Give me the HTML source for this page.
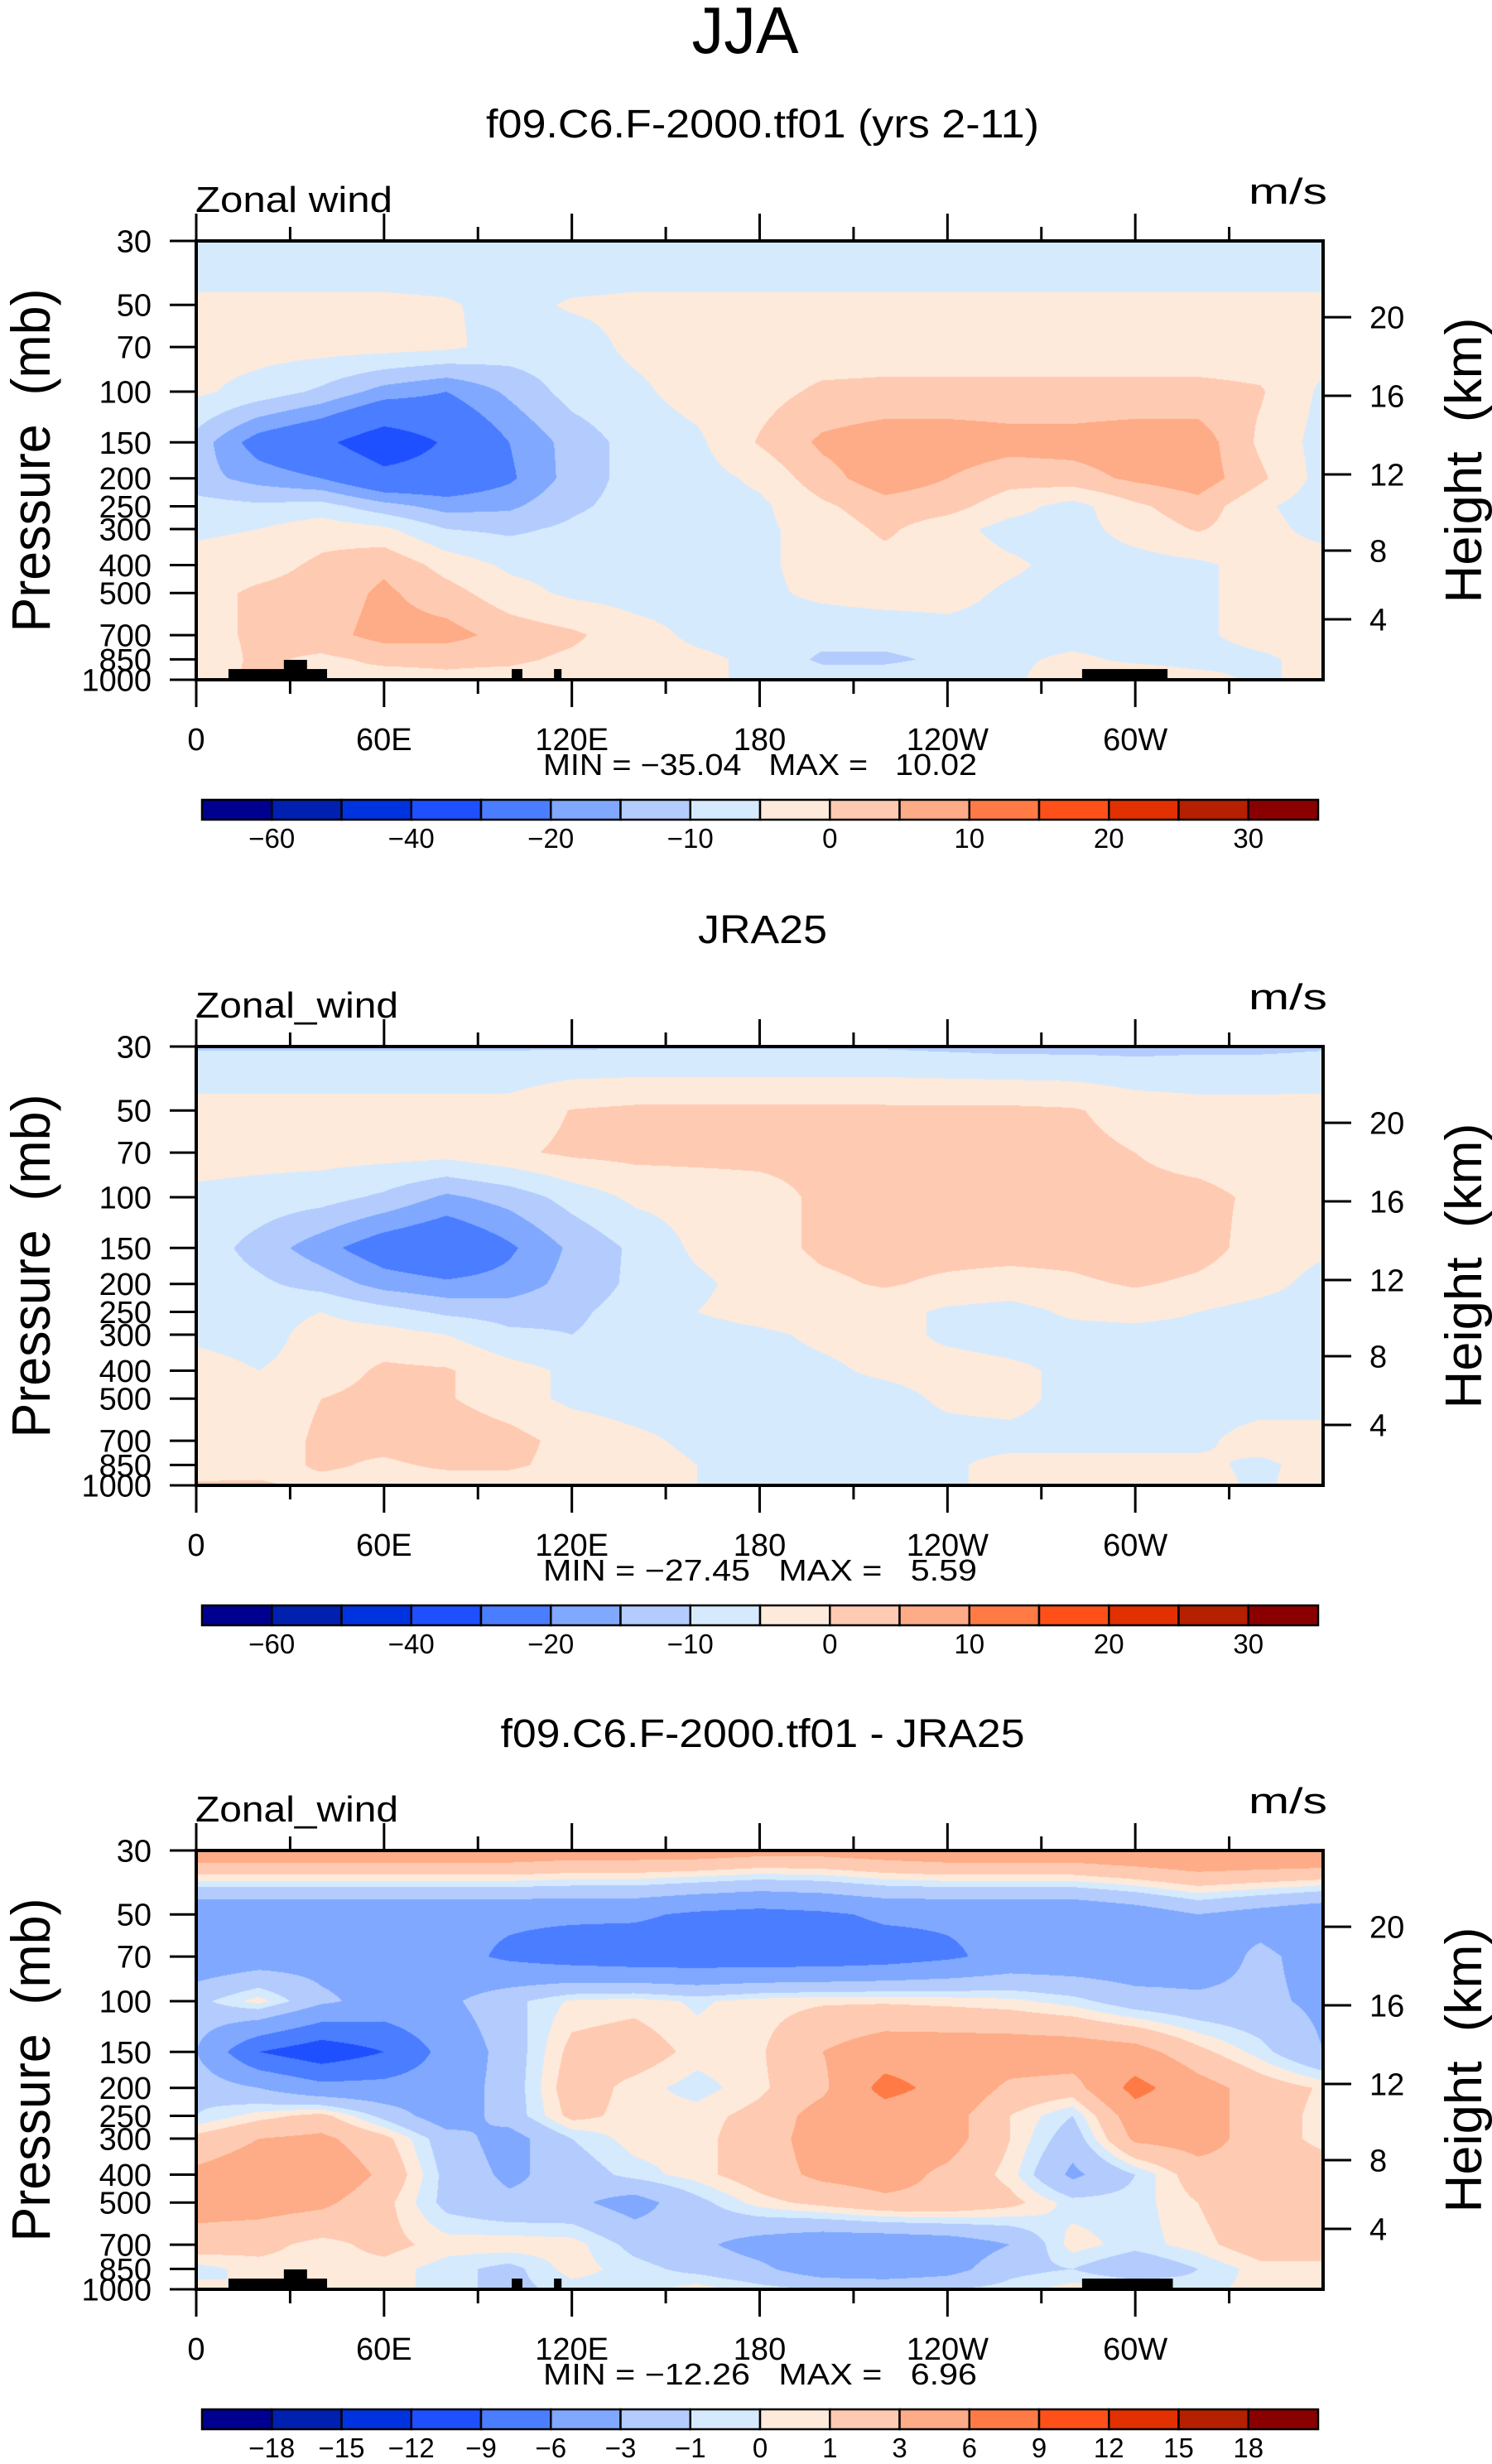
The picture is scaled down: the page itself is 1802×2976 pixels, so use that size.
<!DOCTYPE html>
<html><head><meta charset="utf-8">
<style>
html,body{margin:0;padding:0;background:#fff;}
#wrap{position:relative;width:1802px;height:2976px;overflow:hidden;background:#fff;}
canvas{position:absolute;}
svg{position:absolute;left:0;top:0;}
text{font-family:"Liberation Sans",sans-serif;fill:#000;}
</style></head>
<body>
<div id="wrap">
<canvas id="c0" width="1361" height="530" style="left:237px;top:291px"></canvas>
<canvas id="c1" width="1361" height="530" style="left:237px;top:1264px"></canvas>
<canvas id="c2" width="1361" height="530" style="left:237px;top:2235px"></canvas>
<svg id="ov" width="1802" height="2976" xmlns="http://www.w3.org/2000/svg">
<text x="900" y="64" font-size="80" text-anchor="middle" textLength="129" lengthAdjust="spacingAndGlyphs">JJA</text>
</svg>
</div>
<script>
// ---- data ----
const lons=[0,20,40,60,80,100,120,140,160,180,200,220,240,260,280,300,320,340,360];
const plevs=[30,50,70,100,150,200,250,300,400,500,700,850,1000];
const uModel=[
[-9,-9,-9,-9,-9,-9,-9,-9,-9,-9,-9,-9,-9,-9,-9,-9,-9,-9,-9],
[-4,-4,-4,-4,-4.5,-6.5,-4.5,-4,-4,-4,-4,-4,-4,-4,-4,-4,-4,-4,-4],
[-3,-3,-3,-3,-4,-7,-7,-4,-3,-3,-3,-3,-3,-3,-3,-3,-3,-3,-3],
[-4,-7,-11,-17,-20,-14,-8,-6,-3,-2,1,1.5,1.5,1.5,1.5,1.5,1.5,0.5,-6],
[-12,-23,-28,-36,-29,-20,-13,-8,-6,0.5,6,8,8,7,7,8,8,-1,-7],
[-13,-17,-20,-27,-26,-21,-13,-8,-7,-4,3,8,5,2,3,6,8,1,-7],
[-8,-9,-8,-13,-17,-16,-11,-8,-7,-6,-1,3,2,-3,-7,-1,3,-4,-8],
[-6,-5,-2,-4,-10,-11,-9,-7,-7,-6,-3,1,-3,-7,-7,-3,0.5,-3,-7],
[-3,-2,1,4,-2,-6,-7,-7,-7,-6,-3,-2,-2,-4,-7,-7,-6,-3,-2],
[-2,1,2,6,2,-3,-6,-7,-7,-6,-4,-3,-3,-6,-7,-7,-6,-3,-2],
[-2,1,3,7,7,3,1,-3,-6,-7,-8,-8,-7,-7,-7,-7,-6,-3,-3],
[-3,1,-1,1,1,1,-1,-3,-4,-6,-11,-11,-9,-6,-4,-6,-7,-6,-3],
[-2,1,-1,-2,-1,-2,-3,-4,-4,-6,-7,-7,-7,-6,-2,-1,-3,-6,-3]];
const uJRA=[
[-10.5,-10.5,-10.5,-10.5,-10.5,-10.5,-10.5,-10.5,-10.5,-10.5,-10.5,-10.5,-11,-11.5,-11.5,-11.5,-11,-11,-10.5],
[-3,-3,-3,-3,-3,-3,0.2,1,1,1,1,1,1,1,0.5,-2,-3,-3,-3],
[-3,-3,-3,-3,-3,-1,1,1.5,1.5,1.5,1.5,1.5,1.5,1.5,1.5,0,-2,-3,-3],
[-6,-7,-8,-11,-16,-13,-8,-4,-3,-2,1,1.5,1.5,1.5,1.5,1.5,1.5,-1,-3],
[-7,-12,-18,-24,-27,-21,-14,-9,-4,-2,1,2,2,2,2,4,2,-2,-4],
[-7,-9,-12,-17,-19,-18,-13,-9,-6,-3,-1,0.5,-1,-2,-1,0.5,-1,-3,-7],
[-7,-7,-5,-8,-11,-12,-11,-8,-5,-3,-2,-3,-6,-7,-4,-3,-5,-7,-8],
[-6,-7,-3,-3,-5,-9,-10,-8,-7,-6,-4,-3,-6,-7,-7,-7,-7,-7,-7],
[-3,-5,-3,1,0.5,-3,-6,-7,-7,-7,-6,-4,-3,-4,-6,-7,-7,-7,-7],
[-3,-3,0,2,0.5,-3,-6,-7,-7,-7,-7,-7,-4,-3,-7,-7,-7,-7,-7],
[-3,-3,1,2,4,2,-2,-4,-6,-7,-7,-7,-7,-7,-7,-7,-6,-3,-3],
[-2,-3,1,-1,1,1,-2,-3,-5,-7,-7,-7,-6,-3,-3,-3,-4,-6,-3],
[0.5,1,-2,-2,-3,-3,-3,-4,-5,-7,-7,-7,-6,-3,-2,-2,-3,-6,-2]];
const uDiff=[
[5,5,5,5,5,5,4.5,4.5,4.5,4,4,4.5,5,5,5,5.5,6,6,6],
[-5.5,-5.5,-5.5,-5.5,-5.5,-5.5,-5.5,-5.5,-6.5,-7,-6.5,-5.5,-5.5,-5.5,-5.5,-4.5,-3,-4,-5],
[-5,-4.5,-4,-4,-5,-6.5,-7.5,-8,-8,-8,-8,-7.5,-6.5,-5,-5,-5,-4.5,-2.5,-4],
[-1.5,0.5,-2.5,-4,-3.5,-1.5,0.2,0.5,-0.2,0.5,0.8,0.8,0.6,0.3,-0.5,-2,-2.5,-2.5,-3.5],
[-3,-9,-11,-9,-5,-2,1.5,2,0.5,0.8,3,4.5,4.5,4.5,4.5,4,1.5,-0.5,-3],
[-1.5,-3,-5,-5,-4.5,-2,2,0.5,-0.5,0.7,2.5,7,5,2.5,2,7,4,2,0.8],
[-1,0.5,1.5,-1.5,-4.5,-2,1.5,0.5,0.5,1.5,4,4.5,4,1,-1,4.5,4,2,0.5],
[1.5,3,3.5,1.5,-2,-4,-1,0.5,0.5,2,4,4.5,4,1,-2,3.5,4,2,0.5],
[3.5,4.5,5,2.5,-1.5,-3.5,-2,-0.5,0.5,2,3.5,4,2.5,0.5,-3.5,-1,2,2.5,2],
[4,4,3.5,1.5,-1.5,-2.5,-2.5,-4,-1.5,0.5,1.5,2.5,2.5,1.5,-0.5,-0.5,1,2.5,2],
[2,1.5,0.5,1.5,0.5,0.7,0.5,-1.5,-2.5,-4,-5,-5,-4.5,-3,0.5,-0.5,0.5,2,2],
[-0.5,0.5,0.5,0.5,-0.5,-1.5,0.5,-0.5,-1.5,-2.5,-4.5,-5,-4,-1.5,-1,-2.5,-1,0.5,0.5],
[0.5,-0.5,0.5,0.5,-0.5,-1.5,-0.5,-0.5,0.5,-0.5,-1,-1,-1,-0.5,0.5,0.5,-0.5,0.5,0.5]];
const levelsWind=[-60,-50,-40,-30,-20,-15,-10,-5,0,5,10,15,20,25,30];
const levelsDiff=[-18,-15,-12,-9,-6,-3,-1,0,1,3,6,9,12,15,18];
const windLabelIdx=[0,2,4,6,8,10,12,14];
const diffLabelIdx=[0,1,2,3,4,5,6,7,8,9,10,11,12,13,14];
const palette=['#000090','#0020b0','#0033e0','#1e50ff','#4a7dff','#80a8ff','#b3ccfd','#d6eafe','#feeadb','#fecbb2','#feab87','#ff7a45','#ff5019','#e23000','#b42000','#8a0000'];
const presTicks=[30,50,70,100,150,200,250,300,400,500,700,850,1000];
const heightTicks=[20,16,12,8,4];
const heightPos=[0.1738,0.3528,0.5321,0.7057,0.8623];
const lonTicks=[0,30,60,90,120,150,180,210,240,270,300,330];
const lonLabels={0:'0',60:'60E',120:'120E',180:'180',240:'120W',300:'60W'};
const topoA=[[10.3,41.8,918],[28,35.4,853],[100.8,104.2,918],[114.3,116.7,918],[283,310.3,918]];
const topoC=[[10.3,41.8,918],[28,35.4,853],[100.8,104.2,918],[114.3,116.7,918],[283,312,918]];
const mins=['-35.04','-27.45','-12.26'];
const maxs=['10.02','5.59','6.96'];

// ---- axes ----
const X0=237,W=1361,H=530,TOPS=[291,1264,2235];
const LN=Math.log(1000/30);
function xOf(lon){return X0+lon/360*W;}
function yOf(p,top){return top+Math.log(p/30)/LN*H;}
const NS='http://www.w3.org/2000/svg';
const ov=document.getElementById('ov');
function mk(tag,a){const e=document.createElementNS(NS,tag);for(const k in a)e.setAttribute(k,a[k]);ov.appendChild(e);return e;}
function txt(s,a){const e=mk('text',a);e.textContent=s;return e;}

function colorIdx(v,lev){let i=0;while(i<lev.length&&v>=lev[i])i++;return i;}
function hex(c){return [parseInt(c.substr(1,2),16),parseInt(c.substr(3,2),16),parseInt(c.substr(5,2),16)];}
const pal=palette.map(hex);
const lp=plevs.map(p=>Math.log(p));

function fill(cid,data,lev){
  const cv=document.getElementById(cid),ctx=cv.getContext('2d');
  const img=ctx.createImageData(W,H),d=img.data;
  for(let y=0;y<H;y++){
    const l=Math.log(30)+(y+0.5)/H*LN;
    let r=0;while(r<plevs.length-2&&l>lp[r+1])r++;
    const fy=Math.min(1,Math.max(0,(l-lp[r])/(lp[r+1]-lp[r])));
    for(let x=0;x<W;x++){
      const lon=(x+0.5)/W*360;
      let c=Math.min(lons.length-2,Math.floor(lon/20));
      const fx=(lon-lons[c])/(lons[c+1]-lons[c]);
      const v=(data[r][c]*(1-fx)+data[r][c+1]*fx)*(1-fy)+(data[r+1][c]*(1-fx)+data[r+1][c+1]*fx)*fy;
      const col=pal[colorIdx(v,lev)];
      const o=(y*W+x)*4;d[o]=col[0];d[o+1]=col[1];d[o+2]=col[2];d[o+3]=255;
    }
  }
  ctx.putImageData(img,0,0);
}

function panel(k,data,lev,labIdx,title,tlen,topo){
  const top=TOPS[k],off=top-291;
  fill('c'+k,data,lev);
  const t=txt(title,{x:921,y:166+off,'font-size':48,'text-anchor':'middle',textLength:tlen,lengthAdjust:'spacingAndGlyphs'});
  
  
  const zl=txt(k==0?'Zonal wind':'Zonal_wind',{x:236,y:256+off,'font-size':44,textLength:k==0?238:245,lengthAdjust:'spacingAndGlyphs'});
  
  
  const un=txt('m/s',{x:1603,y:246+off,'font-size':44,'text-anchor':'end',textLength:95,lengthAdjust:'spacingAndGlyphs'});
  
  
  if(topo){for(const b of topo){
    const r=mk('rect',{x:xOf(b[0]),y:yOf(b[2],top),width:xOf(b[1])-xOf(b[0]),height:yOf(1000,top)-yOf(b[2],top),fill:'#000'});
    
    
  }}
  const fr=mk('rect',{x:X0,y:top,width:W,height:H,fill:'none',stroke:'#000','stroke-width':4});
  
  
  for(const lo of lonTicks){
    const maj=lo%60==0,L=maj?33:17,x=xOf(lo);
    const a=mk('line',{x1:x,x2:x,y1:top+H,y2:top+H+L,stroke:'#000','stroke-width':3});
    
    
    const b=mk('line',{x1:x,x2:x,y1:top,y2:top-L,stroke:'#000','stroke-width':3});
    
    
    if(maj){
      const l=txt(lonLabels[lo],{x:x,y:906+off,'font-size':38,'text-anchor':'middle'});
      
      
    }
  }
  for(const p of presTicks){
    const y=yOf(p,top);
    const a=mk('line',{x1:205,x2:X0,y1:y,y2:y,stroke:'#000','stroke-width':3});
    
    
    const l=txt(String(p),{x:183,y:y+13.5,'font-size':38,'text-anchor':'end'});
    
    
  }
  heightTicks.forEach((h,i)=>{
    const y=top+heightPos[i]*H;
    const a=mk('line',{x1:X0+W,x2:X0+W+34,y1:y,y2:y,stroke:'#000','stroke-width':3});
    
    
    const l=txt(String(h),{x:1654,y:y+13.5,'font-size':38});
    
    
  });
  const yl=txt('Pressure  (mb)',{x:0,y:0,'font-size':66,'text-anchor':'middle',textLength:415,lengthAdjust:'spacingAndGlyphs',transform:'translate(60,'+(556+off)+') rotate(-90)',style:'white-space:pre'});
  
  
  const hl=txt('Height  (km)',{x:0,y:0,'font-size':62,'text-anchor':'middle',textLength:345,lengthAdjust:'spacingAndGlyphs',transform:'translate(1789,'+(556+off)+') rotate(-90)',style:'white-space:pre'});
  
  
  const mm=txt('MIN = \u2212'+mins[k].slice(1)+'   MAX =   '+maxs[k],{x:656,y:936+off,'font-size':36,textLength:524,lengthAdjust:'spacingAndGlyphs',style:'white-space:pre'});
  
  
  const cbx=244,cbw=1348/16;
  palette.forEach((c,i)=>{
    const r=mk('rect',{x:cbx+i*cbw,y:966+off,width:cbw,height:24,fill:c,stroke:'#000','stroke-width':2.5});
    
    
  });
  for(const i of labIdx){
    const v=lev[i];
    const l=txt(v<0?'\u2212'+(-v):String(v),{x:cbx+(i+1)*cbw,y:1024+off,'font-size':33,'text-anchor':'middle'});
    
    
  }
}
panel(0,uModel,levelsWind,windLabelIdx,'f09.C6.F-2000.tf01 (yrs 2-11)',668,topoA);
panel(1,uJRA,levelsWind,windLabelIdx,'JRA25',156,null);
panel(2,uDiff,levelsDiff,diffLabelIdx,'f09.C6.F-2000.tf01 - JRA25',633,topoC);
</script>
</body></html>
